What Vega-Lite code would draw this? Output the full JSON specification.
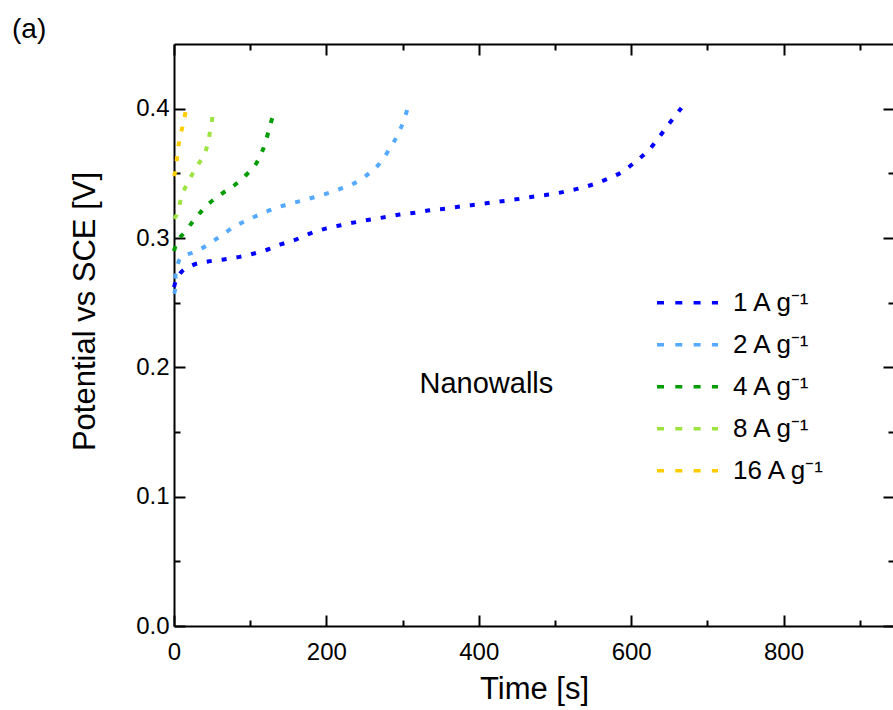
{
  "$schema": "https://vega.github.io/schema/vega-lite/v6.json",
  "autosize": {"type": "none"},
  "padding": {"left": 174, "top": 44, "right": 0, "bottom": 84},
  "width": 720,
  "height": 582,
  "title": {"text": "(a)", "anchor": "start", "frame": "group", "dx": -162, "dy": 29, "offset": 6, "baseline": "alphabetic", "fontSize": 28, "fontWeight": "normal", "font": "Liberation Sans", "color": "black"},
  "config": {
    "view": {"stroke": null},
    "axis": {"domainColor": "black", "domainWidth": 2, "tickColor": "black", "tickWidth": 2, "grid": false, "labelFlush": false, "labelFont": "Liberation Sans", "labelFontSize": 24, "labelColor": "black", "titleFont": "Liberation Sans", "titleFontSize": 31, "titleFontWeight": "normal", "titleColor": "black"}
  },
  "datasets": {
    "curves": [
      {"s": "1 A g⁻¹", "t": 0, "v": 0.262}, {"s": "1 A g⁻¹", "t": 3, "v": 0.268}, {"s": "1 A g⁻¹", "t": 8, "v": 0.2725}, {"s": "1 A g⁻¹", "t": 24.5, "v": 0.279}, {"s": "1 A g⁻¹", "t": 46, "v": 0.282}, {"s": "1 A g⁻¹", "t": 65, "v": 0.2834}, {"s": "1 A g⁻¹", "t": 86, "v": 0.2854}, {"s": "1 A g⁻¹", "t": 105, "v": 0.288}, {"s": "1 A g⁻¹", "t": 124, "v": 0.2913}, {"s": "1 A g⁻¹", "t": 141, "v": 0.2952}, {"s": "1 A g⁻¹", "t": 160, "v": 0.2988}, {"s": "1 A g⁻¹", "t": 179, "v": 0.3035}, {"s": "1 A g⁻¹", "t": 199, "v": 0.3073}, {"s": "1 A g⁻¹", "t": 219, "v": 0.3099}, {"s": "1 A g⁻¹", "t": 240, "v": 0.3124}, {"s": "1 A g⁻¹", "t": 260, "v": 0.3145}, {"s": "1 A g⁻¹", "t": 279, "v": 0.3163}, {"s": "1 A g⁻¹", "t": 297, "v": 0.3182}, {"s": "1 A g⁻¹", "t": 318, "v": 0.3197}, {"s": "1 A g⁻¹", "t": 336, "v": 0.3215}, {"s": "1 A g⁻¹", "t": 358, "v": 0.3228}, {"s": "1 A g⁻¹", "t": 379, "v": 0.3246}, {"s": "1 A g⁻¹", "t": 401, "v": 0.3261}, {"s": "1 A g⁻¹", "t": 418, "v": 0.3275}, {"s": "1 A g⁻¹", "t": 436, "v": 0.3288}, {"s": "1 A g⁻¹", "t": 456, "v": 0.3305}, {"s": "1 A g⁻¹", "t": 476, "v": 0.3323}, {"s": "1 A g⁻¹", "t": 496, "v": 0.3339}, {"s": "1 A g⁻¹", "t": 516, "v": 0.3362}, {"s": "1 A g⁻¹", "t": 533, "v": 0.3385}, {"s": "1 A g⁻¹", "t": 550, "v": 0.3414}, {"s": "1 A g⁻¹", "t": 571, "v": 0.3462}, {"s": "1 A g⁻¹", "t": 589, "v": 0.3514}, {"s": "1 A g⁻¹", "t": 606, "v": 0.3592}, {"s": "1 A g⁻¹", "t": 623, "v": 0.3679}, {"s": "1 A g⁻¹", "t": 637, "v": 0.3782}, {"s": "1 A g⁻¹", "t": 651, "v": 0.3893}, {"s": "1 A g⁻¹", "t": 666, "v": 0.4005},
      {"s": "2 A g⁻¹", "t": 0, "v": 0.257}, {"s": "2 A g⁻¹", "t": 1.3, "v": 0.2596}, {"s": "2 A g⁻¹", "t": 2.2, "v": 0.273}, {"s": "2 A g⁻¹", "t": 10, "v": 0.2854}, {"s": "2 A g⁻¹", "t": 27.6, "v": 0.2892}, {"s": "2 A g⁻¹", "t": 45, "v": 0.295}, {"s": "2 A g⁻¹", "t": 62.6, "v": 0.3022}, {"s": "2 A g⁻¹", "t": 81, "v": 0.3094}, {"s": "2 A g⁻¹", "t": 98.5, "v": 0.3145}, {"s": "2 A g⁻¹", "t": 118.5, "v": 0.3197}, {"s": "2 A g⁻¹", "t": 135.6, "v": 0.3236}, {"s": "2 A g⁻¹", "t": 156.6, "v": 0.3271}, {"s": "2 A g⁻¹", "t": 177.7, "v": 0.3305}, {"s": "2 A g⁻¹", "t": 198.3, "v": 0.3339}, {"s": "2 A g⁻¹", "t": 217, "v": 0.3377}, {"s": "2 A g⁻¹", "t": 235.5, "v": 0.342}, {"s": "2 A g⁻¹", "t": 253, "v": 0.3486}, {"s": "2 A g⁻¹", "t": 269, "v": 0.357}, {"s": "2 A g⁻¹", "t": 282.7, "v": 0.3687}, {"s": "2 A g⁻¹", "t": 294.5, "v": 0.381}, {"s": "2 A g⁻¹", "t": 303.3, "v": 0.3937}, {"s": "2 A g⁻¹", "t": 306, "v": 0.399},
      {"s": "4 A g⁻¹", "t": 0, "v": 0.29}, {"s": "4 A g⁻¹", "t": 2.2, "v": 0.2944}, {"s": "4 A g⁻¹", "t": 14.4, "v": 0.3047}, {"s": "4 A g⁻¹", "t": 28.9, "v": 0.3158}, {"s": "4 A g⁻¹", "t": 46, "v": 0.3267}, {"s": "4 A g⁻¹", "t": 63, "v": 0.3344}, {"s": "4 A g⁻¹", "t": 80.5, "v": 0.3414}, {"s": "4 A g⁻¹", "t": 96.7, "v": 0.35}, {"s": "4 A g⁻¹", "t": 110.3, "v": 0.36}, {"s": "4 A g⁻¹", "t": 119.5, "v": 0.373}, {"s": "4 A g⁻¹", "t": 126, "v": 0.3867}, {"s": "4 A g⁻¹", "t": 132.5, "v": 0.4},
      {"s": "8 A g⁻¹", "t": 0, "v": 0.315}, {"s": "8 A g⁻¹", "t": 3.5, "v": 0.318}, {"s": "8 A g⁻¹", "t": 10, "v": 0.332}, {"s": "8 A g⁻¹", "t": 19.7, "v": 0.3447}, {"s": "8 A g⁻¹", "t": 32, "v": 0.357}, {"s": "8 A g⁻¹", "t": 42.9, "v": 0.37}, {"s": "8 A g⁻¹", "t": 48.1, "v": 0.3847}, {"s": "8 A g⁻¹", "t": 51.6, "v": 0.398},
      {"s": "16 A g⁻¹", "t": 0, "v": 0.348}, {"s": "16 A g⁻¹", "t": 2.2, "v": 0.353}, {"s": "16 A g⁻¹", "t": 4.8, "v": 0.367}, {"s": "16 A g⁻¹", "t": 9.2, "v": 0.381}, {"s": "16 A g⁻¹", "t": 14.4, "v": 0.395}, {"s": "16 A g⁻¹", "t": 15.5, "v": 0.399}
    ],
    "notes": [{"t": 410, "v": 0.1875, "label": "Nanowalls"}]
  },
  "layer": [
    {
      "data": {"name": "curves"},
      "mark": {"type": "line", "strokeDash": [5, 10], "strokeWidth": 4, "strokeCap": "butt", "interpolate": "monotone"},
      "encoding": {
        "x": {"field": "t", "type": "quantitative", "scale": {"domain": [0, 945], "nice": false, "zero": false},
          "axis": {"orient": "bottom", "title": "Time [s]", "values": [0, 100, 200, 300, 400, 500, 600, 700, 800, 900],
            "labelExpr": "datum.value % 200 === 0 ? datum.label : ''",
            "tickSize": {"condition": {"test": "datum.value % 200 === 0", "value": -11}, "value": -6},
            "labelPadding": 25, "titlePadding": 10}},
        "y": {"field": "v", "type": "quantitative", "scale": {"domain": [0, 0.45], "nice": false, "zero": false},
          "axis": {"orient": "left", "title": "Potential vs SCE [V]", "values": [0, 0.05, 0.1, 0.15, 0.2, 0.25, 0.3, 0.35, 0.4],
            "labelExpr": "round(datum.value * 100) % 10 === 0 ? format(datum.value, '.1f') : ''",
            "tickSize": {"condition": {"test": "round(datum.value * 100) % 10 === 0", "value": -11}, "value": -6},
            "labelPadding": 16, "titlePadding": 34, "titleY": 267}},
        "color": {"field": "s", "type": "nominal",
          "scale": {"domain": ["1 A g⁻¹", "2 A g⁻¹", "4 A g⁻¹", "8 A g⁻¹", "16 A g⁻¹"], "range": ["#0000ff", "#55aaff", "#009c00", "#9de33f", "#ffcc00"]},
          "legend": {"title": null, "orient": "none", "legendX": 481, "legendY": 238, "symbolType": "stroke", "symbolSize": 3721, "symbolStrokeWidth": 3.5, "symbolDash": [7, 11.3], "clipHeight": 41.3, "rowPadding": 0, "labelFont": "Liberation Sans", "labelFontSize": 26, "labelColor": "black", "labelOffset": 13, "labelLimit": 300}}
      }
    },
    {
      "data": {"name": "curves"},
      "mark": {"type": "point", "opacity": 0},
      "encoding": {
        "x": {"field": "t", "type": "quantitative", "scale": {"domain": [0, 945], "nice": false, "zero": false},
          "axis": {"orient": "top", "title": null, "labels": false, "values": [0, 100, 200, 300, 400, 500, 600, 700, 800, 900],
            "tickSize": {"condition": {"test": "datum.value % 200 === 0", "value": -11}, "value": -6}}},
        "y": {"field": "v", "type": "quantitative", "scale": {"domain": [0, 0.45], "nice": false, "zero": false},
          "axis": {"orient": "right", "title": null, "labels": false, "values": [0, 0.05, 0.1, 0.15, 0.2, 0.25, 0.3, 0.35, 0.4],
            "tickSize": {"condition": {"test": "round(datum.value * 100) % 10 === 0", "value": -11}, "value": -6}}}
      }
    },
    {
      "data": {"name": "notes"},
      "mark": {"type": "text", "font": "Liberation Sans", "fontSize": 29, "color": "black", "align": "center", "baseline": "middle"},
      "encoding": {
        "x": {"field": "t", "type": "quantitative", "axis": null},
        "y": {"field": "v", "type": "quantitative", "axis": null},
        "text": {"field": "label"}
      }
    }
  ],
  "resolve": {"axis": {"x": "independent", "y": "independent"}}
}
